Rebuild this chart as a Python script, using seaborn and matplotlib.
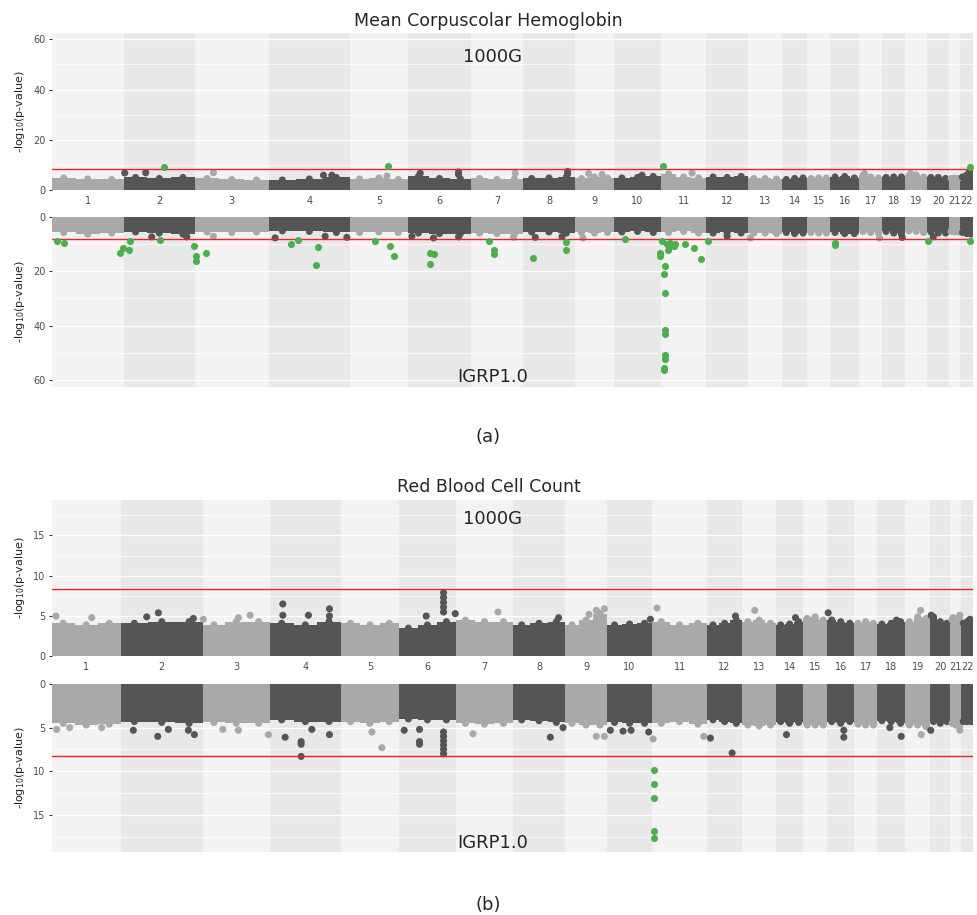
import numpy as np
import pandas as pd
import matplotlib
matplotlib.use("Agg")
import matplotlib.pyplot as plt
import seaborn as sns

#%% data
chroms = [str(i) for i in range(1, 23)]

# width of every chromosome on the x axis (SNP index units), panel a and b
width_a = [72, 71, 74, 81, 58, 63, 52, 52, 39, 47, 45, 42, 34, 25, 23, 29, 23, 23, 22, 22, 11, 13]
width_b = [69, 82, 67, 71, 58, 57, 57, 52, 42, 45, 55, 35, 34, 27, 24, 27, 23, 28, 25, 20, 11, 12]

# upper edge of the dense cloud of SNPs, three bins per chromosome
band_a_top = [[4.8, 4.4, 4.2], [5.0, 4.6, 5.0], [4.6, 4.2, 4.0], [4.0, 4.4, 5.0], [4.4, 4.8, 4.2],
              [5.4, 4.6, 4.4], [4.6, 4.2, 4.4], [4.6, 4.8, 5.2], [4.6, 5.2, 4.8], [4.8, 5.0, 5.4],
              [6.4, 5.2, 4.8], [5.2, 5.0, 5.4], [4.6, 4.6, 4.4], [4.2, 4.6, 4.8], [4.6, 4.8, 4.8],
              [5.2, 5.4, 4.8], [6.0, 5.2, 4.8], [5.0, 5.2, 5.2], [5.6, 6.0, 5.2], [5.0, 5.0, 4.6],
              [4.6, 4.8, 4.6], [5.2, 6.0, 7.0]]
band_a_bot = [[5.8, 6.4, 6.0], [5.6, 6.0, 6.4], [5.6, 5.8, 5.6], [5.2, 5.4, 5.8], [5.8, 5.6, 5.8],
              [6.0, 6.2, 6.2], [6.0, 6.2, 6.4], [5.6, 5.6, 6.0], [5.8, 6.0, 5.8], [5.6, 5.4, 5.8],
              [5.8, 5.4, 6.0], [6.0, 5.8, 6.0], [6.0, 6.0, 6.2], [5.8, 6.2, 6.0], [5.8, 6.0, 6.0],
              [5.8, 6.2, 6.2], [5.4, 5.8, 6.0], [5.4, 6.0, 6.4], [5.2, 5.4, 5.8], [5.6, 6.0, 6.0],
              [5.4, 5.6, 5.6], [5.8, 6.2, 6.4]]
band_b_top = [[4.1, 3.9, 4.1], [4.1, 4.3, 4.3], [3.9, 4.3, 4.3], [4.1, 3.9, 4.3], [4.1, 3.9, 4.1],
              [3.5, 3.9, 4.3], [4.5, 4.3, 4.3], [3.9, 4.1, 4.3], [3.9, 4.5, 5.3], [3.9, 4.0, 4.1],
              [4.3, 3.9, 4.1], [3.9, 4.1, 4.5], [4.3, 4.5, 4.1], [3.9, 4.0, 4.3], [4.7, 4.9, 4.5],
              [4.5, 4.3, 4.1], [4.1, 4.3, 4.1], [4.0, 4.1, 4.3], [4.3, 4.9, 4.7], [4.9, 4.3, 4.1],
              [4.5, 4.7, 4.7], [4.1, 4.3, 4.5]]
band_b_bot = [[4.5, 4.7, 4.6], [4.3, 4.4, 4.5], [4.4, 4.5, 4.5], [4.1, 4.3, 4.3], [4.3, 4.5, 4.3],
              [4.0, 4.1, 4.1], [4.5, 4.6, 4.5], [4.1, 4.2, 4.4], [4.5, 4.7, 4.7], [4.4, 4.5, 4.5],
              [4.5, 4.3, 4.6], [4.1, 4.3, 4.5], [4.7, 4.8, 4.7], [4.3, 4.5, 4.4], [4.7, 4.7, 4.7],
              [4.3, 4.5, 4.3], [4.6, 4.7, 4.7], [4.2, 4.3, 4.5], [4.7, 4.7, 4.9], [4.3, 4.5, 4.3],
              [4.5, 4.7, 4.9], [4.3, 4.3, 4.3]]

# single SNPs standing out of the cloud: (chromosome, position in chromosome, -log10 p)
peaks_a_top = [(2, 1, 6.8), (2, 22, 6.9), (3, 18.6, 6.9), (4, 54.6, 5.9), (4, 63, 5.9), (5, 37, 5.6),
               (6, 12.3, 6.7), (6, 50.6, 7.2), (6, 50.6, 6.2), (7, 44.3, 6.7), (8, 44.6, 7.4),
               (8, 44.6, 6.4), (9, 13.6, 6.6), (9, 27, 6.2), (10, 28, 5.9), (11, 31, 6.7),
               (17, 5.3, 6.6), (19, 5.3, 6.6), (22, 9.3, 7.5)]
peaks_a_bot = [(2, 28, 7.4), (2, 63, 7.4), (3, 18.6, 7.2), (4, 6.3, 7.8), (4, 56.3, 7.2), (4, 78, 7.6),
               (6, 4, 7.2), (6, 25.6, 7.8), (6, 50.6, 7.4), (7, 42.6, 7.6), (8, 12.3, 7.6), (8, 39, 7.3),
               (9, 8, 7.8), (12, 21, 7.2), (13, 2.3, 7.8), (17, 20.3, 7.8), (18, 20, 7.6), (20, 6, 7.4)]
peaks_b_top = [(1, 4.3, 5.0), (1, 40, 4.8), (2, 26, 4.9), (2, 37.6, 5.4), (2, 72.6, 4.7), (3, 0.5, 4.6),
               (3, 35.6, 4.8), (3, 47.3, 5.1), (4, 13, 6.5), (4, 13, 5.1), (4, 38.6, 5.1), (4, 59.6, 5.9),
               (4, 59.6, 5.0), (6, 27.3, 5.0), (6, 44.6, 7.9), (6, 44.6, 7.3), (6, 44.6, 6.7),
               (6, 44.6, 6.1), (6, 44.6, 5.5), (6, 56.3, 5.3), (7, 42, 5.5), (8, 45.6, 4.8),
               (9, 24, 5.2), (9, 31.3, 5.7), (9, 39.3, 5.9), (10, 43.3, 4.6), (11, 5, 6.0),
               (12, 28.3, 5.0), (13, 12.6, 5.7), (14, 19.3, 4.8), (16, 1, 5.4), (18, 19.3, 4.5),
               (19, 15.3, 5.7), (20, 1, 5.1), (21, 2.6, 4.8), (21, 9.6, 5.1), (22, 8.6, 4.6)]
peaks_b_bot = [(1, 5, 5.2), (1, 18, 5.0), (1, 50, 5.0), (2, 12.6, 5.3), (2, 37, 6.0), (2, 47.6, 5.2),
               (2, 67.6, 5.3), (2, 73.6, 5.8), (3, 20, 5.2), (3, 35.6, 5.3), (3, 65.6, 5.8),
               (4, 15.3, 6.1), (4, 31.3, 6.6), (4, 31.3, 6.9), (4, 31.3, 8.3), (4, 42, 5.2),
               (4, 59.6, 5.8), (5, 31, 5.5), (5, 41, 7.3), (6, 5.3, 5.3), (6, 20.6, 5.2),
               (6, 20.6, 6.6), (6, 20.6, 6.9), (6, 44.6, 5.5), (6, 44.6, 6.0), (6, 44.6, 6.5),
               (6, 44.6, 7.0), (6, 44.6, 7.5), (6, 44.6, 8.0), (7, 17, 5.7), (8, 37.3, 6.1),
               (8, 50, 5.0), (9, 31.3, 6.0), (9, 39.3, 6.0), (10, 3.3, 5.3), (10, 16, 5.4),
               (10, 24, 5.3), (10, 41.6, 5.5), (11, 1, 6.3), (11, 51.6, 6.0), (12, 3.3, 6.2),
               (12, 25, 7.9), (14, 10.3, 5.8), (16, 16.6, 5.3), (16, 16.6, 6.1), (18, 12.6, 5.0),
               (18, 24, 6.0), (19, 16, 5.8), (20, 0.5, 5.3), (21, 9.6, 5.3)]

# genome-wide significant hits (green)
hits_a_top = [(2, 40, 9.0), (5, 37.7, 9.7), (11, 2.3, 9.7), (22, 9.3, 9.3)]
hits_a_bot = [(1, 5, 9.1), (1, 12.6, 9.8), (1, 68.3, 13.3), (1, 71.6, 11.5), (2, 5.3, 12.1),
              (2, 6.3, 8.9), (2, 36.3, 8.5), (2, 70.3, 10.9), (3, 1.6, 14.5), (3, 1.6, 16.2),
              (3, 11.3, 13.4), (4, 22.3, 9.9), (4, 29.6, 8.7), (4, 47, 17.7), (4, 49, 11.1),
              (5, 25.3, 8.9), (5, 39.6, 10.6), (5, 44, 14.4), (6, 22.3, 13.4), (6, 25.6, 13.7),
              (6, 22.3, 17.4), (7, 18.3, 9.1), (7, 22.6, 12.4), (7, 22.6, 13.8), (8, 9.6, 15.0),
              (8, 43.3, 9.4), (8, 43.3, 12.1), (10, 11.3, 8.3), (10, 46.3, 13.3), (10, 46.3, 14.5),
              (11, 1, 9.1), (11, 4.3, 18.2), (11, 3, 21.2), (11, 4.3, 28.0), (11, 4.3, 41.7),
              (11, 4.3, 43.0), (11, 4, 50.9), (11, 4, 52.4), (11, 3.3, 55.7), (11, 3.3, 56.3),
              (11, 6, 10.0), (11, 7.6, 11.2), (11, 9.3, 9.6), (11, 12.6, 10.6), (11, 14.3, 10.0),
              (11, 7, 12.4), (11, 23.6, 10.2), (11, 32.6, 11.5), (11, 40, 15.5), (12, 2, 9.1),
              (16, 4.6, 9.6), (16, 4.6, 10.4), (20, 1, 8.8), (22, 9.3, 9.1)]
hits_b_top = []
hits_b_bot = [(11, 2.3, 9.9), (11, 2.0, 11.5), (11, 2.3, 13.1), (11, 1.8, 16.8), (11, 1.8, 17.6)]

threshold = 8.3  # red significance line

#%% style
sns.set_theme(style="white")
plt.rcParams["font.family"] = ["DejaVu Sans"]
colors = {"light": "#a9a9a9", "dark": "#555555", "hit": "#4caf4c"}
strip_colors = ["#f3f3f3", "#e8e8e8"]


def build_points(widths, band, peaks, hits):
    starts = np.concatenate([[0], np.cumsum(widths)[:-1]])
    rows = []
    for i, (w, vals) in enumerate(zip(widths, band)):
        shade = "dark" if (i + 1) % 2 == 0 else "light"
        for k, v in enumerate(vals):
            rows.append((starts[i] + w * (k + 0.5) / len(vals), v, shade, w / len(vals), "band"))
    for c, p, v in peaks:
        rows.append((starts[c - 1] + p, v, "dark" if c % 2 == 0 else "light", 0, "peak"))
    for c, p, v in hits:
        rows.append((starts[c - 1] + p, v, "hit", 0, "hit"))
    return pd.DataFrame(rows, columns=["x", "logp", "kind", "w", "src"])


def manhattan(ax, widths, band, peaks, hits, ymax, major, minor, top=True):
    starts = np.concatenate([[0], np.cumsum(widths)[:-1]])
    for i, (s, w) in enumerate(zip(starts, widths)):
        ax.axvspan(s, s + w, color=strip_colors[i % 2], lw=0, zorder=0)
    for y in major:
        ax.axhline(y, color="white", lw=1.0, zorder=0.5)
    for y in minor:
        ax.axhline(y, color="white", lw=0.5, zorder=0.5)

    df = build_points(widths, band, peaks, hits)
    b = df[df.src == "band"]
    ax.bar(b.x, b.logp, width=b.w, color=[colors[k] for k in b.kind], lw=0, zorder=2)
    cloud = df[df.src != "hit"]
    sns.scatterplot(data=cloud, x="x", y="logp", hue="kind", palette=colors, s=26,
                    linewidth=0, legend=False, ax=ax, zorder=2.5)
    ax.axhline(threshold, color="#e8262a", lw=1.0, zorder=3)
    hit = df[df.src == "hit"]
    if len(hit):
        sns.scatterplot(data=hit, x="x", y="logp", color=colors["hit"], s=26,
                        linewidth=0, legend=False, ax=ax, zorder=4)

    ax.set_xlim(0, sum(widths))
    if top:
        ax.set_ylim(0, ymax)
        ax.set_xticks(starts + np.array(widths) / 2)
        ax.set_xticklabels(chroms)
    else:
        ax.set_ylim(ymax, 0)
        ax.set_xticks([])
    ax.set_yticks(major)
    ax.set_yticklabels([f"{t:g}" for t in major])
    ax.tick_params(axis="x", length=0, pad=4, labelsize=7, labelcolor="#4d4d4d")
    ax.tick_params(axis="y", length=2.5, width=0.8, color="#333333", pad=2,
                   labelsize=7, labelcolor="#4d4d4d", left=True)
    for sp in ax.spines.values():
        sp.set_visible(False)
    ax.set_xlabel("")
    ax.set_ylabel(r"-log$_{10}$(p-value)", fontsize=8, color="#222222")
    ax.yaxis.set_label_coords(-0.027, 0.5)


fig = plt.figure(figsize=(9.77, 9.15), dpi=100)
left, width = 0.0529, 0.9433
ax_a1 = fig.add_axes([left, 0.7923, width, 0.1716])
ax_a2 = fig.add_axes([left, 0.5774, width, 0.1858])
ax_b1 = fig.add_axes([left, 0.2827, width, 0.1708])
ax_b2 = fig.add_axes([left, 0.0685, width, 0.1839])

manhattan(ax_a1, width_a, band_a_top, peaks_a_top, hits_a_top, 62.5, [0, 20, 40, 60], [10, 30, 50])
manhattan(ax_a2, width_a, band_a_bot, peaks_a_bot, hits_a_bot, 62.4, [0, 20, 40, 60], [10, 30, 50], top=False)
manhattan(ax_b1, width_b, band_b_top, peaks_b_top, hits_b_top, 19.4, [0, 5, 10, 15], [2.5, 7.5, 12.5, 17.5])
manhattan(ax_b2, width_b, band_b_bot, peaks_b_bot, hits_b_bot, 19.3, [0, 5, 10, 15], [2.5, 7.5, 12.5, 17.5], top=False)

ax_a1.text(0.478, 0.849, "1000G", transform=ax_a1.transAxes, ha="center", va="center", fontsize=13)
ax_a2.text(0.478, 0.059, "IGRP1.0", transform=ax_a2.transAxes, ha="center", va="center", fontsize=13)
ax_b1.text(0.478, 0.878, "1000G", transform=ax_b1.transAxes, ha="center", va="center", fontsize=13)
ax_b2.text(0.478, 0.055, "IGRP1.0", transform=ax_b2.transAxes, ha="center", va="center", fontsize=13)

fig.text(0.5, 0.977, "Mean Corpuscolar Hemoglobin", ha="center", va="center", fontsize=12.5)
fig.text(0.5, 0.468, "Red Blood Cell Count", ha="center", va="center", fontsize=12.5)
fig.text(0.4995, 0.5224, "(a)", ha="center", va="center", fontsize=13)
fig.text(0.4995, 0.0109, "(b)", ha="center", va="center", fontsize=13)

fig.savefig("out.png", dpi=100)
